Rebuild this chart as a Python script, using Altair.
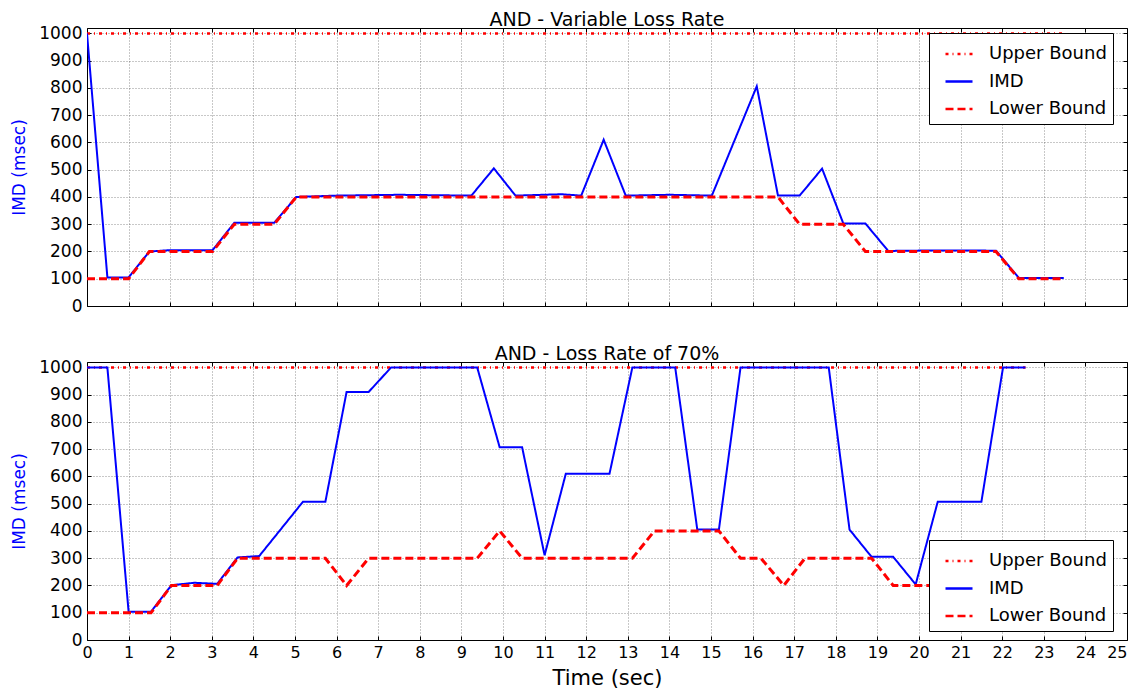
import altair as alt
import pandas as pd

SERIES = ["Upper Bound", "IMD", "Lower Bound"]
COLORS = ["#ff0000", "#0000ff", "#ff0000"]
DASHES = [[3, 4, 1, 4], [1, 0], [8, 4]]

X_TICKS = list(range(0, 26))
Y_TICKS = list(range(0, 1001, 100))

# Panel 1: AND - Variable Loss Rate
top_upper_t = [0, 23.48]
top_upper_v = [1000, 1000]
top_imd_t = [0, 0.49, 1.0, 1.5, 2.02, 3.02, 3.54, 4.5, 5.03, 6.0,
             7.5, 9.24, 9.78, 10.3, 11.4, 11.88, 12.42, 12.95, 14.0, 15.02,
             16.1, 16.61, 17.13, 17.67, 18.18, 18.71, 19.26, 20.5, 21.85, 22.4,
             23.48]
top_imd_v = [1000, 105, 105, 200, 205, 205, 305, 305, 400, 405,
             408, 405, 505, 405, 410, 405, 610, 405, 408, 405,
             806, 405, 405, 504, 303, 303, 202, 204, 203, 103,
             103]
top_lower_t = [0, 1.0, 1.5, 3.02, 3.54, 4.5, 5.03, 16.61, 17.13, 18.18, 18.71, 21.85, 22.4, 23.48]
top_lower_v = [100, 100, 200, 200, 300, 300, 400, 400, 300, 300, 200, 200, 100, 100]

# Panel 2: AND - Loss Rate of 70%
bot_upper_t = [0, 22.56]
bot_upper_v = [1000, 1000]
bot_imd_t = [0, 0.49, 1.0, 1.54, 2.03, 2.58, 3.13, 3.62, 4.14, 5.19,
             5.73, 6.24, 6.77, 7.31, 9.38, 9.92, 10.46, 11.0, 11.51, 12.56,
             13.11, 14.14, 14.67, 15.19, 15.71, 17.83, 18.33, 18.86, 19.38, 19.92,
             20.45, 21.5, 22.02, 22.56]
bot_imd_v = [1000, 1000, 104, 104, 201, 210, 206, 303, 308, 507,
             507, 910, 910, 1000, 1000, 707, 707, 311, 610, 610,
             1000, 1000, 405, 405, 1000, 1000, 405, 305, 305, 204,
             507, 507, 1000, 1000]
bot_lower_t = [0, 1.0, 1.54, 2.03, 3.13, 3.62, 5.73, 6.24, 6.77, 9.38, 9.92,
               10.46, 13.11, 13.64, 15.19, 15.71, 16.2, 16.75, 17.26, 18.86, 19.38, 22.56]
bot_lower_v = [100, 100, 100, 200, 200, 300, 300, 200, 300, 300, 400,
               300, 300, 400, 400, 300, 300, 200, 300, 300, 200, 200]

FONT = "DejaVu Sans"
X_SCALE = alt.Scale(domain=[0, 25], nice=False)
Y_SCALE = alt.Scale(domain=[0, 1020], nice=False)


def make_df(upper_t, upper_v, imd_t, imd_v, lower_t, lower_v):
    parts = []
    for name, ts, vs in [("Upper Bound", upper_t, upper_v),
                         ("IMD", imd_t, imd_v),
                         ("Lower Bound", lower_t, lower_v)]:
        parts.append(pd.DataFrame({"t": ts, "v": vs, "series": name, "order": range(len(ts))}))
    return pd.concat(parts, ignore_index=True)


def panel(title, df, legend_y, show_x):
    legend = alt.Legend(
        title=None, orient="none", legendX=842, legendY=legend_y,
        symbolType="stroke", symbolSize=729, symbolStrokeWidth=2.5,
        labelFontSize=18, labelFont=FONT, labelColor="black", labelOffset=15,
        symbolOffset=9,
        strokeColor="black", fillColor="white", padding=6, cornerRadius=0,
        rowPadding=3.5,
    )
    if show_x:
        xaxis = alt.Axis(values=X_TICKS, title="Time (sec)", labelFontSize=16,
                         titleFontSize=21, labelPadding=4, titlePadding=7, format="d",
                         labelFlush=False,
                         labelAlign={"expr": "datum.value == 25 ? 'right' : 'center'"},
                         ticks=True, tickSize=4, offset=-4)
    else:
        xaxis = alt.Axis(values=X_TICKS, title=None, labels=False,
                         ticks=True, tickSize=4, offset=-4)
    x = alt.X("t:Q", scale=X_SCALE, axis=xaxis)
    y = alt.Y("v:Q", scale=Y_SCALE,
              axis=alt.Axis(values=Y_TICKS, title="IMD (msec)", titleColor="#0000ff",
                            titleFontSize=17, labelFontSize=17, labelPadding=5, titlePadding=10,
                            titleFontWeight="normal", format="d", labelFlush=False,
                            ticks=True, tickSize=4, offset=-4))
    color = alt.Color("series:N", scale=alt.Scale(domain=SERIES, range=COLORS), legend=legend,
                      sort=SERIES)
    dash = alt.StrokeDash("series:N", scale=alt.Scale(domain=SERIES, range=DASHES), legend=legend,
                          sort=SERIES)
    base = alt.Chart(df)
    layers = []
    for name, w in [("Upper Bound", 2.5), ("IMD", 2), ("Lower Bound", 3)]:
        layers.append(
            base.transform_filter(alt.datum.series == name)
            .mark_line(strokeWidth=w, clip=True)
            .encode(x=x, y=y, color=color, strokeDash=dash, order="order:Q")
        )
    lines = alt.layer(*layers)
    # invisible layer carrying the top/right inward tick marks
    frame_axes = base.mark_line(opacity=0).encode(
        x=alt.X("t:Q", scale=X_SCALE,
                axis=alt.Axis(orient="top", values=X_TICKS, labels=False, title=None, grid=False,
                              ticks=True, tickSize=4, offset=-4)),
        y=alt.Y("v:Q", scale=Y_SCALE,
                axis=alt.Axis(orient="right", values=Y_TICKS, labels=False, title=None, grid=False,
                              ticks=True, tickSize=4, offset=-4)),
        detail="series:N",
    )
    return alt.layer(lines, frame_axes).resolve_axis(x="independent", y="independent").properties(
        width=1040, height=278,
        title=alt.TitleParams(title, fontSize=19, font=FONT, fontWeight="normal", offset=-6),
    )


top = panel("AND - Variable Loss Rate",
            make_df(top_upper_t, top_upper_v, top_imd_t, top_imd_v, top_lower_t, top_lower_v),
            5, False)
bottom = panel("AND - Loss Rate of 70%",
               make_df(bot_upper_t, bot_upper_v, bot_imd_t, bot_imd_v, bot_lower_t, bot_lower_v),
               178, True)

chart = (
    alt.vconcat(top, bottom, spacing=29)
    .resolve_scale(color="independent", strokeDash="independent")
    .resolve_legend(color="independent", strokeDash="independent")
    .properties(padding={"left": 2, "top": 2, "right": 0, "bottom": 0})
    .configure(font=FONT)
    .configure_view(stroke="black", strokeWidth=1)
    .configure_axis(domain=False, grid=True, gridColor="#000000",
                    gridDash=[1, 2], gridOpacity=0.55, gridWidth=0.8,
                    tickColor="black", tickWidth=1,
                    labelColor="black", titleColor="black", labelFont=FONT, titleFont=FONT,
                    titleFontWeight="normal")
)

chart.save("out.html", embed_options={"renderer": "svg", "actions": False})
